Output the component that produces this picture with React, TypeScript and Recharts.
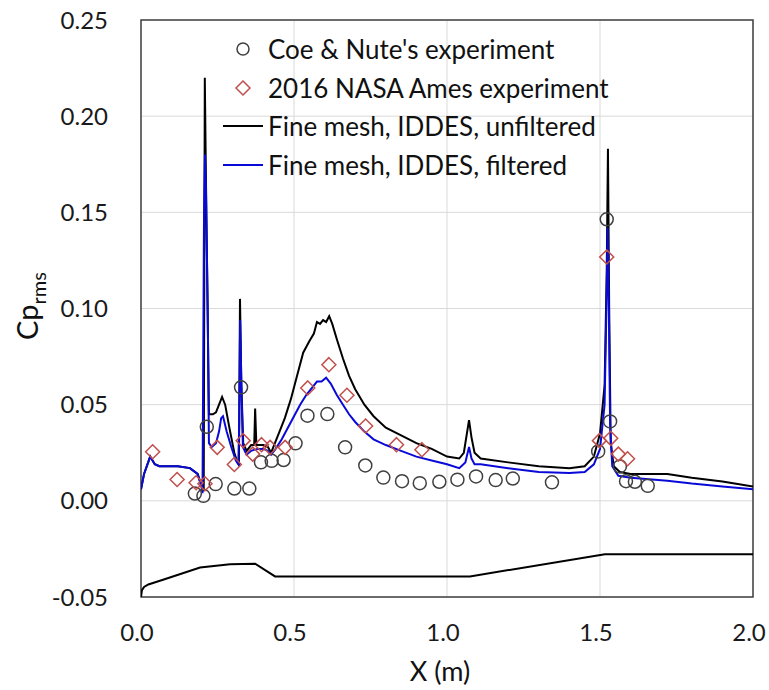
import React from 'react';
import {
  ComposedChart,
  Line,
  Scatter,
  XAxis,
  YAxis,
  CartesianGrid,
  ReferenceArea,
  Legend,
  Label,
} from 'recharts';

const FONT = 'Lato, "Noto Sans", sans-serif';

const xTicks = [0, 0.5, 1.0, 1.5, 2.0];
const yTicks = [-0.05, 0, 0.05, 0.1, 0.15, 0.2, 0.25];

const coeNute: [number, number][] = [
  [0.176, 0.0038], [0.204, 0.0026], [0.215, 0.0385], [0.244, 0.0087],
  [0.305, 0.0064], [0.327, 0.059], [0.354, 0.0064], [0.392, 0.020],
  [0.427, 0.0208], [0.466, 0.0212], [0.505, 0.0299], [0.544, 0.0443],
  [0.609, 0.0451], [0.667, 0.0278], [0.733, 0.0184], [0.792, 0.0121],
  [0.853, 0.0102], [0.911, 0.0092], [0.975, 0.0099], [1.034, 0.011],
  [1.095, 0.0127], [1.159, 0.0108], [1.215, 0.0116], [1.343, 0.0096],
  [1.494, 0.0257], [1.522, 0.1464], [1.533, 0.0413], [1.565, 0.0179],
  [1.585, 0.0102], [1.614, 0.0099], [1.656, 0.0078],
];

const nasaAmes: [number, number][] = [
  [0.038, 0.0255], [0.118, 0.0111], [0.18, 0.0094], [0.209, 0.0089],
  [0.249, 0.0278], [0.305, 0.0189], [0.334, 0.0313], [0.365, 0.0243],
  [0.394, 0.0292], [0.422, 0.0278], [0.471, 0.0278], [0.545, 0.0587],
  [0.614, 0.0708], [0.673, 0.0549], [0.734, 0.0389], [0.835, 0.0292],
  [0.918, 0.0266], [1.498, 0.0313], [1.522, 0.1268], [1.535, 0.0325],
  [1.56, 0.0243], [1.59, 0.0219],
];

const unfiltered: [number, number][] = [
  [0.0, 0.006], [0.01, 0.014], [0.03, 0.023], [0.045, 0.019], [0.06, 0.018],
  [0.12, 0.018], [0.16, 0.017], [0.185, 0.014], [0.2, 0.007], [0.205, 0.005],
  [0.2085, 0.22], [0.212, 0.17], [0.216, 0.12], [0.222, 0.045], [0.235, 0.045],
  [0.245, 0.046], [0.255, 0.05], [0.265, 0.054], [0.275, 0.05], [0.29, 0.037],
  [0.305, 0.025], [0.315, 0.02], [0.32, 0.019], [0.3235, 0.105], [0.328, 0.06],
  [0.334, 0.03], [0.345, 0.026], [0.36, 0.029], [0.37, 0.029], [0.373, 0.048],
  [0.377, 0.029], [0.4, 0.029], [0.415, 0.028], [0.425, 0.025], [0.435, 0.029],
  [0.45, 0.035], [0.47, 0.043], [0.49, 0.053], [0.51, 0.065], [0.53, 0.077],
  [0.55, 0.083], [0.565, 0.087], [0.575, 0.093], [0.585, 0.092], [0.595, 0.094],
  [0.605, 0.093], [0.615, 0.096], [0.625, 0.092], [0.64, 0.084], [0.66, 0.074],
  [0.68, 0.065], [0.7, 0.058], [0.73, 0.05], [0.76, 0.044], [0.8, 0.038],
  [0.85, 0.034], [0.9, 0.03], [0.95, 0.027], [1.0, 0.023], [1.04, 0.022],
  [1.055, 0.025], [1.065, 0.035], [1.072, 0.042], [1.08, 0.033], [1.09, 0.025],
  [1.11, 0.022], [1.2, 0.02], [1.3, 0.018], [1.4, 0.017], [1.45, 0.018],
  [1.48, 0.023], [1.5, 0.035], [1.515, 0.06], [1.522, 0.12], [1.526, 0.183],
  [1.53, 0.1], [1.535, 0.03], [1.545, 0.018], [1.565, 0.015], [1.6, 0.014],
  [1.72, 0.014], [1.8, 0.012], [1.9, 0.01], [2.0, 0.0075],
];

const filtered: [number, number][] = [
  [0.0, 0.006], [0.01, 0.014], [0.03, 0.023], [0.045, 0.019], [0.06, 0.018],
  [0.12, 0.018], [0.16, 0.017], [0.185, 0.014], [0.198, 0.007], [0.201, 0.004],
  [0.206, 0.15], [0.209, 0.18], [0.212, 0.165], [0.218, 0.1], [0.222, 0.03],
  [0.231, 0.028], [0.245, 0.03], [0.255, 0.036], [0.262, 0.043], [0.268, 0.044],
  [0.28, 0.036], [0.295, 0.028], [0.31, 0.021], [0.318, 0.019], [0.321, 0.04],
  [0.324, 0.094], [0.328, 0.06], [0.333, 0.028], [0.345, 0.024], [0.36, 0.026],
  [0.38, 0.027], [0.4, 0.027], [0.415, 0.026], [0.425, 0.024], [0.44, 0.027],
  [0.46, 0.032], [0.48, 0.038], [0.5, 0.044], [0.52, 0.05], [0.54, 0.055],
  [0.56, 0.059], [0.575, 0.062], [0.59, 0.062], [0.605, 0.064], [0.62, 0.061],
  [0.64, 0.055], [0.66, 0.05], [0.68, 0.045], [0.7, 0.041], [0.73, 0.036],
  [0.76, 0.032], [0.8, 0.029], [0.85, 0.026], [0.9, 0.023], [0.95, 0.021],
  [1.0, 0.019], [1.04, 0.017], [1.06, 0.02], [1.072, 0.028], [1.08, 0.022],
  [1.09, 0.019], [1.11, 0.019], [1.2, 0.017], [1.3, 0.015], [1.4, 0.0145],
  [1.45, 0.015], [1.48, 0.019], [1.5, 0.027], [1.515, 0.05], [1.521, 0.1],
  [1.525, 0.142], [1.529, 0.1], [1.533, 0.04], [1.54, 0.018], [1.56, 0.013],
  [1.6, 0.012], [1.72, 0.0105], [1.8, 0.009], [1.9, 0.0075], [2.0, 0.006],
];

const geometry: [number, number][] = [
  [0.0, -0.05], [0.003, -0.0465], [0.01, -0.0448], [0.024, -0.0435],
  [0.072, -0.041], [0.193, -0.0347], [0.291, -0.033], [0.373, -0.0327],
  [0.438, -0.0393], [1.075, -0.0393], [1.516, -0.0278], [2.0, -0.0278],
];

const legendItems = [
  { label: "Coe & Nute's experiment", kind: 'circle' },
  { label: '2016 NASA Ames experiment', kind: 'diamond' },
  { label: 'Fine mesh, IDDES, unfiltered', kind: 'black' },
  { label: 'Fine mesh, IDDES, filtered', kind: 'blue' },
];

const BLUE = '#0a0ad8';
const RED = '#c0504d';
const GRAY = '#404040';

const toPts = (arr: [number, number][]) => arr.map(([x, y]) => ({ x, y }));

const CircleShape = (props: any) => {
  const { cx, cy } = props;
  return <circle cx={cx} cy={cy} r={6.5} fill="none" stroke={GRAY} strokeWidth={1.5} />;
};

const DiamondShape = (props: any) => {
  const { cx, cy } = props;
  const s = 7;
  return (
    <path
      d={`M${cx},${cy - s} L${cx + s},${cy} L${cx},${cy + s} L${cx - s},${cy} Z`}
      fill="none"
      stroke={RED}
      strokeWidth={1.5}
    />
  );
};

const renderLegend = () => (
  <div style={{ fontFamily: FONT, fontSize: 26, color: '#111' }}>
    {legendItems.map((it) => (
      <div key={it.label} style={{ display: 'flex', alignItems: 'center', height: 38.5 }}>
        <svg width={48} height={38} style={{ display: 'block' }}>
          {it.kind === 'circle' && (
            <circle cx={23} cy={19} r={6} fill="none" stroke={GRAY} strokeWidth={1.5} />
          )}
          {it.kind === 'diamond' && (
            <path d="M23,12 L30,19 L23,26 L16,19 Z" fill="none" stroke={RED} strokeWidth={1.5} />
          )}
          {it.kind === 'black' && <line x1={3} x2={43} y1={19} y2={19} stroke="#000" strokeWidth={2} />}
          {it.kind === 'blue' && <line x1={3} x2={43} y1={19} y2={19} stroke={BLUE} strokeWidth={2} />}
        </svg>
        <span style={{ whiteSpace: 'nowrap', lineHeight: '38px' }}>{it.label}</span>
      </div>
    ))}
  </div>
);

const YLabel = () => (
  <text
    transform="translate(38, 306) rotate(-90)"
    fontFamily={FONT}
    fontSize={29}
    textAnchor="middle"
    fill="#111"
  >
    <tspan>Cp</tspan>
    <tspan fontSize={20} dy={8}>rms</tspan>
  </text>
);

const XLabel = () => (
  <text x={440} y={681} fontFamily={FONT} fontSize={27} textAnchor="middle" fill="#111">
    X (m)
  </text>
);

export default function App() {
  return (
    <div style={{ position: 'absolute', left: 0, top: 0, width: 769, height: 690, background: '#fff' }}>
      <ComposedChart
        width={769}
        height={690}
        margin={{ top: 20, right: 16, left: 0, bottom: 0 }}
      >
        <CartesianGrid stroke="#d9d9d9" strokeWidth={1} />
        <XAxis
          type="number"
          dataKey="x"
          domain={[0, 2]}
          ticks={xTicks}
          tickFormatter={(v: number) => v.toFixed(1)}
          axisLine={false}
          tickLine={false}
          tickSize={0}
          tickMargin={27}
          height={93}
          allowDataOverflow
          tick={{ fontFamily: FONT, fontSize: 24, fill: '#1a1a1a', dx: -4 }}
        >
          <Label content={<XLabel />} />
        </XAxis>
        <YAxis
          type="number"
          dataKey="y"
          domain={[-0.05, 0.25]}
          ticks={yTicks}
          tickFormatter={(v: number) => v.toFixed(2)}
          axisLine={false}
          tickLine={false}
          tickSize={0}
          tickMargin={33}
          width={141}
          allowDataOverflow
          tick={{ fontFamily: FONT, fontSize: 24, fill: '#1a1a1a' }}
        >
          <Label content={<YLabel />} />
        </YAxis>
        <ReferenceArea
          x1={0}
          x2={2}
          y1={-0.05}
          y2={0.25}
          fill="none"
          stroke={GRAY}
          strokeWidth={1.5}
          ifOverflow="visible"
        />
        <Scatter
          name="Coe & Nute's experiment"
          data={toPts(coeNute)}
          shape={<CircleShape />}
          isAnimationActive={false}
        />
        <Scatter
          name="2016 NASA Ames experiment"
          data={toPts(nasaAmes)}
          shape={<DiamondShape />}
          isAnimationActive={false}
        />
        <Line
          data={toPts(geometry)}
          dataKey="y"
          type="linear"
          stroke="#000"
          strokeWidth={2}
          dot={false}
          activeDot={false}
          legendType="none"
          isAnimationActive={false}
        />
        <Line
          name="Fine mesh, IDDES, unfiltered"
          data={toPts(unfiltered)}
          dataKey="y"
          type="linear"
          stroke="#000"
          strokeWidth={2}
          dot={false}
          activeDot={false}
          isAnimationActive={false}
        />
        <Line
          name="Fine mesh, IDDES, filtered"
          data={toPts(filtered)}
          dataKey="y"
          type="linear"
          stroke={BLUE}
          strokeWidth={2}
          dot={false}
          activeDot={false}
          isAnimationActive={false}
        />
        <Legend
          layout="vertical"
          align="center"
          verticalAlign="middle"
          content={renderLegend}
          wrapperStyle={{ position: 'absolute', left: 220, top: 30, width: 'auto', height: 'auto' }}
        />
      </ComposedChart>
    </div>
  );
}
